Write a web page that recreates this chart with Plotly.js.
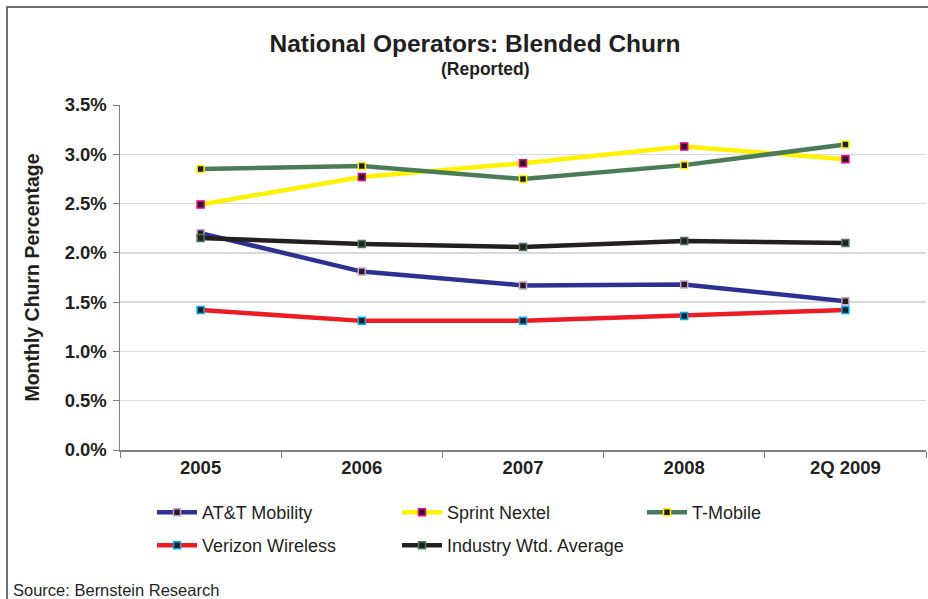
<!DOCTYPE html>
<html>
<head>
<meta charset="utf-8">
<script src="https://cdn.plot.ly/plotly-3.0.1.min.js"></script>
<style>html,body{margin:0;padding:0;background:#fff;}#chart{width:928px;height:599px;}</style>
</head>
<body>
<div id="chart"></div>
<script>
var categories = ["2005", "2006", "2007", "2008", "2Q 2009"];
var attMobility = [2.20, 1.81, 1.67, 1.68, 1.51];
var sprintNextel = [2.49, 2.77, 2.91, 3.08, 2.95];
var tMobile = [2.85, 2.88, 2.75, 2.89, 3.10];
var verizonWireless = [1.42, 1.31, 1.31, 1.36, 1.42];
var industryAverage = [2.15, 2.09, 2.06, 2.12, 2.10];
var yTicks = [0, 0.5, 1.0, 1.5, 2.0, 2.5, 3.0, 3.5];

function series(name, values, lineColor, markerLine, legendId) {
  return {
    type: 'scatter', mode: 'lines+markers', name: name,
    x: categories, y: values,
    legend: legendId,
    line: {color: lineColor, width: 4.5},
    marker: {symbol: 'square', size: 7, color: '#231F20', line: {color: markerLine, width: 1.5}},
    hoverinfo: 'x+y+name'
  };
}

var data = [
  series('AT&T Mobility', attMobility, '#2E3192', '#C9A0D0', 'legend'),
  series('Sprint Nextel', sprintNextel, '#FFF200', '#EC008C', 'legend'),
  series('T-Mobile', tMobile, '#4A7C59', '#FFF200', 'legend'),
  series('Verizon Wireless', verizonWireless, '#ED1C24', '#00AEEF', 'legend2'),
  series('Industry Wtd. Average', industryAverage, '#231F20', '#4A7C59', 'legend2')
];

var font = 'Liberation Sans, Arial, sans-serif';
function legendBox(topPx) {
  return {
    orientation: 'h',
    x: 32/806, xanchor: 'left',
    y: (450 - topPx)/345, yanchor: 'top',
    entrywidth: 190, entrywidthmode: 'pixels',
    itemwidth: 40,
    font: {family: font, size: 18, color: '#231F20'},
    bgcolor: 'rgba(0,0,0,0)'
  };
}
var layout = {
  width: 928, height: 599,
  margin: {l: 120, r: 2, t: 105, b: 149},
  paper_bgcolor: '#fff', plot_bgcolor: '#fff',
  font: {family: font, color: '#231F20'},
  title: {
    text: '<b>National Operators: Blended Churn</b>',
    font: {family: font, size: 24.5, color: '#231F20'},
    x: 475/928, xref: 'container', xanchor: 'center', y: 1 - 43/599, yref: 'container', yanchor: 'middle'
  },
  xaxis: {
    type: 'category',
    tickson: 'boundaries',
    ticks: 'outside', ticklen: 6, tickcolor: '#808080',
    showline: true, linecolor: '#808080', linewidth: 1.5,
    showgrid: false, zeroline: false,
    tickfont: {family: font, size: 18.5, color: '#231F20', weight: 'bold'},
    range: [-0.5, 4.5]
  },
  yaxis: {
    range: [0, 3.5],
    tickvals: yTicks,
    ticktext: yTicks.map(function(v){ return v.toFixed(1) + '%'; }),
    ticks: 'outside', ticklen: 6, tickcolor: '#808080',
    showline: true, linecolor: '#808080', linewidth: 1.5,
    showgrid: true, gridcolor: '#D9D9D9', gridwidth: 1.5,
    zeroline: false,
    ticklabelstandoff: 2,
    tickfont: {family: font, size: 18.5, color: '#231F20', weight: 'bold'},
    title: {text: '<b>Monthly Churn Percentage</b>', font: {family: font, size: 19.5, color: '#231F20'}, standoff: 20}
  },
  showlegend: true,
  legend: legendBox(494),
  legend2: legendBox(527),
  annotations: [
    {text: '<b>(Reported)</b>', xref: 'paper', yref: 'paper', x: (485-120)/806, y: (450-69)/345, xanchor: 'center', yanchor: 'middle', showarrow: false, font: {family: font, size: 17.5, color: '#231F20'}},
    {text: 'Source: Bernstein Research', xref: 'paper', yref: 'paper', x: (11-120)/806, y: (450-590)/345, xanchor: 'left', yanchor: 'middle', showarrow: false, font: {family: font, size: 16.5, color: '#231F20'}}
  ],
  shapes: [
    {type: 'rect', xref: 'paper', yref: 'paper', x0: (7-120)/806, x1: (940-120)/806, y0: (450-620)/345, y1: (450-7)/345, line: {color: '#404040', width: 1.5}, layer: 'below'}
  ]
};

Plotly.newPlot('chart', data, layout, {displayModeBar: false, staticPlot: true});
</script>
</body>
</html>
